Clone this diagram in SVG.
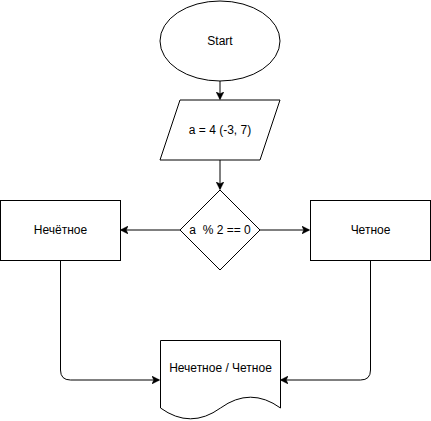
<svg xmlns="http://www.w3.org/2000/svg" width="431" height="421" viewBox="0 0 431 421">
<defs>
<style>
.s{fill:#fff;stroke:#000;stroke-width:1}
.t{font-family:"Liberation Sans",Arial,sans-serif;font-size:12px;fill:#000;text-anchor:middle;dominant-baseline:central}
.c{fill:none;stroke:#000;stroke-width:1}
</style>
<marker id="a" viewBox="0 0 10 10" refX="9" refY="5" markerWidth="8" markerHeight="8" markerUnits="userSpaceOnUse" orient="auto">
<path d="M0,0 L10,5 L0,10 L2.5,5 Z" fill="#000" stroke="#000" stroke-width="0.5"/>
</marker>
</defs>
<rect width="431" height="421" fill="#fff"/>
<g id="connectors">
<path class="c" d="M220,81 V99" marker-end="url(#a)"/>
<path class="c" d="M220,160 V189" marker-end="url(#a)"/>
<path class="c" d="M180,230 H121" marker-end="url(#a)"/>
<path class="c" d="M260,230 H309" marker-end="url(#a)"/>
<path class="c" d="M60.5,260 V370 Q60.5,380 70.5,380 H159" marker-end="url(#a)"/>
<path class="c" d="M370.5,260 V370 Q370.5,380 360.5,380 H281" marker-end="url(#a)"/>
</g>
<g id="start">
<ellipse class="s" cx="220" cy="41" rx="60" ry="40"/>
<text class="t" x="220" y="41">Start</text>
</g>
<g id="input">
<path class="s" d="M180,100 H280 L260,160 H160 Z"/>
<text class="t" x="220" y="130">a = 4 (-3, 7)</text>
</g>
<g id="decision">
<path class="s" d="M220,190 L260,230 L220,270 L180,230 Z"/>
<text class="t" x="220" y="230" xml:space="preserve">a  % 2 == 0</text>
</g>
<g id="odd">
<rect class="s" x="0.5" y="200.5" width="120" height="60"/>
<text class="t" x="60.5" y="230">Нечётное</text>
</g>
<g id="even">
<rect class="s" x="310.5" y="200.5" width="120" height="60"/>
<text class="t" x="370.5" y="230">Четное</text>
</g>
<g id="output">
<path class="s" d="M160.5,340.5 H280.5 V408 Q250.5,386.4 220.5,408 Q190.5,429.6 160.5,408 Z"/>
<text class="t" x="220.5" y="368">Нечетное / Четное</text>
</g>
</svg>
